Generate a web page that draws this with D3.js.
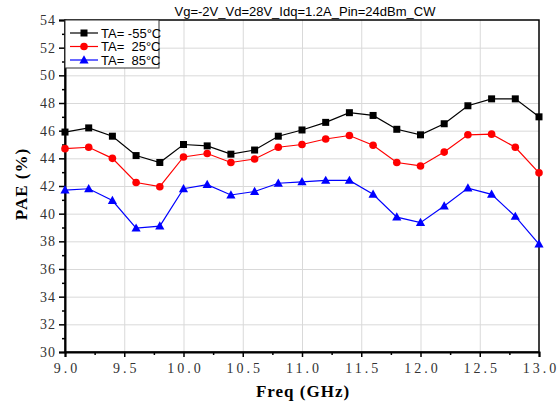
<!DOCTYPE html>
<html>
<head>
<meta charset="utf-8">
<script src="https://cdn.jsdelivr.net/npm/d3@7"></script>
<style>
  body { margin: 0; background: #fff; }
  svg { display: block; }
  .tick text { font-family: "Liberation Serif", serif; font-size: 14px; fill: #333; }
  .xax .tick text { letter-spacing: 3px; }
  .yax .tick text { letter-spacing: 1px; }
  .grid line { stroke: #d9d9d9; stroke-width: 1; }
  .grid .domain { display: none; }
</style>
</head>
<body>
<svg id="chart" width="558" height="407"></svg>
<script>
// frequency points (GHz)
var freq = [9.0, 9.2, 9.4, 9.6, 9.8, 10.0, 10.2, 10.4, 10.6, 10.8, 11.0,
            11.2, 11.4, 11.6, 11.8, 12.0, 12.2, 12.4, 12.6, 12.8, 13.0];

// PAE (%) per temperature
var paeM55 = [45.9, 46.2, 45.6, 44.2, 43.7, 45.0, 44.9, 44.3, 44.6, 45.6, 46.05,
              46.6, 47.3, 47.1, 46.1, 45.7, 46.5, 47.8, 48.3, 48.3, 47.0];
var pae25  = [44.7, 44.8, 44.0, 42.25, 41.95, 44.1, 44.35, 43.7, 43.95, 44.8, 45.0,
              45.4, 45.65, 44.95, 43.7, 43.45, 44.45, 45.7, 45.75, 44.8, 42.95];
var pae85  = [41.7, 41.8, 40.95, 38.95, 39.1, 41.8, 42.1, 41.35, 41.6, 42.2, 42.3,
              42.4, 42.4, 41.4, 39.75, 39.35, 40.55, 41.85, 41.4, 39.8, 37.8];

var seriesNames = ["TA= -55\u00b0C", "TA=  25\u00b0C", "TA=  85\u00b0C"];
var seriesColors = ["#000000", "#ff0000", "#0000ff"];
var seriesShapes = ["square", "circle", "triangle"];

var xTicks = [9.0, 9.5, 10.0, 10.5, 11.0, 11.5, 12.0, 12.5, 13.0];
var xMinor = [9.25, 9.75, 10.25, 10.75, 11.25, 11.75, 12.25, 12.75];
var yTicks = [30, 32, 34, 36, 38, 40, 42, 44, 46, 48, 50, 52, 54];
var yMinor = [31, 33, 35, 37, 39, 41, 43, 45, 47, 49, 51, 53];

var title = "Vg=-2V_Vd=28V_Idq=1.2A_Pin=24dBm_CW";

var margin = {top: 20, right: 19, bottom: 55, left: 65};
var width = 558 - margin.left - margin.right,
    height = 407 - margin.top - margin.bottom;

var svg = d3.select("#chart");
var g = svg.append("g")
    .attr("transform", "translate(" + margin.left + "," + margin.top + ")");

var xScale = d3.scaleLinear().domain([9.0, 13.0]).range([0, width]);
var yScale = d3.scaleLinear().domain([30, 54]).range([height, 0]);

// grid
g.append("g").attr("class", "grid")
    .call(d3.axisBottom(xScale).tickValues(xTicks.slice(1, -1)).tickSize(height).tickFormat(""));
g.append("g").attr("class", "grid")
    .attr("transform", "translate(" + width + ",0)")
    .call(d3.axisLeft(yScale).tickValues(yTicks.slice(1, -1)).tickSize(width).tickFormat(""));

// frame
g.append("rect")
    .attr("width", width).attr("height", height)
    .attr("fill", "none").attr("stroke", "#000").attr("stroke-width", 1.5);

// axes
var xAxis = g.append("g")
    .attr("class", "xax")
    .attr("transform", "translate(0," + height + ")")
    .call(d3.axisBottom(xScale).tickValues(xTicks).tickSize(5).tickPadding(6)
        .tickFormat(d3.format(".1f")));
// letter-spacing shifts text right; pull it back to center
xAxis.selectAll(".tick text").attr("dx", 1.5);
g.append("g")
    .attr("transform", "translate(0," + height + ")")
    .call(d3.axisBottom(xScale).tickValues(xMinor).tickSize(3).tickFormat(""))
    .select(".domain").remove();
var yAxis = g.append("g")
    .attr("class", "yax")
    .call(d3.axisLeft(yScale).tickValues(yTicks).tickSize(6).tickPadding(3));
g.append("g")
    .call(d3.axisLeft(yScale).tickValues(yMinor).tickSize(3).tickFormat(""))
    .select(".domain").remove();

g.selectAll(".domain").attr("stroke", "#000").attr("stroke-width", 2);
g.selectAll(".tick line").filter(function() { return !this.closest(".grid"); })
    .attr("stroke", "#000").attr("stroke-width", 1.5);

// series
var data = [paeM55, pae25, pae85];
var line = d3.line()
    .x(function(d, i) { return xScale(freq[i]); })
    .y(function(d) { return yScale(d); });

function drawMarker(sel, shape, color) {
    if (shape === "square") {
        sel.append("rect").attr("x", -3.5).attr("y", -3.5)
            .attr("width", 7).attr("height", 7).attr("fill", color);
    } else if (shape === "circle") {
        sel.append("circle").attr("r", 3.8).attr("fill", color);
    } else {
        sel.append("path").attr("d", "M0,-4.8L4.6,3.4L-4.6,3.4Z").attr("fill", color);
    }
}

data.forEach(function(vals, k) {
    var serie = g.append("g").attr("class", "serie");
    serie.append("path")
        .datum(vals)
        .attr("d", line)
        .attr("fill", "none")
        .attr("stroke", seriesColors[k])
        .attr("stroke-width", 1.2);
    serie.selectAll(".pt")
        .data(vals)
        .enter().append("g")
        .attr("class", "pt")
        .attr("transform", function(d, i) { return "translate(" + xScale(freq[i]) + "," + yScale(d) + ")"; })
        .each(function() { drawMarker(d3.select(this), seriesShapes[k], seriesColors[k]); });
});

// legend
var legend = g.append("g");
legend.append("rect")
    .attr("x", 0).attr("y", 0).attr("width", 94).attr("height", 48)
    .attr("fill", "#fff").attr("stroke", "#333").attr("stroke-width", 1);
seriesNames.forEach(function(name, k) {
    var row = legend.append("g").attr("transform", "translate(0," + (13 + k * 13.5) + ")");
    row.append("line").attr("x1", 5).attr("x2", 33)
        .attr("stroke", seriesColors[k]).attr("stroke-width", 1.2);
    var m = row.append("g").attr("transform", "translate(19,0)");
    drawMarker(m, seriesShapes[k], seriesColors[k]);
    row.append("text")
        .attr("x", 36).attr("dy", "0.36em")
        .attr("font-family", "Liberation Sans, Arial, sans-serif")
        .attr("font-size", "13px")
        .style("white-space", "pre")
        .attr("fill", "#000")
        .text(name);
});

// title and axis labels
svg.append("text")
    .attr("x", 305).attr("y", 16)
    .attr("text-anchor", "middle")
    .attr("font-family", "Liberation Sans, Arial, sans-serif")
    .attr("font-size", "13px")
    .text(title);

svg.append("text")
    .attr("x", 303).attr("y", 397)
    .attr("text-anchor", "middle")
    .attr("font-family", "Liberation Serif, serif")
    .attr("font-weight", "bold")
    .attr("font-size", "17px")
    .style("letter-spacing", "1px")
    .style("white-space", "pre")
    .text("Freq (GHz)");

svg.append("text")
    .attr("transform", "translate(27,184) rotate(-90)")
    .attr("text-anchor", "middle")
    .attr("font-family", "Liberation Serif, serif")
    .attr("font-weight", "bold")
    .attr("font-size", "17px")
    .style("letter-spacing", "1px")
    .style("white-space", "pre")
    .text("PAE (%)");
</script>
</body>
</html>
